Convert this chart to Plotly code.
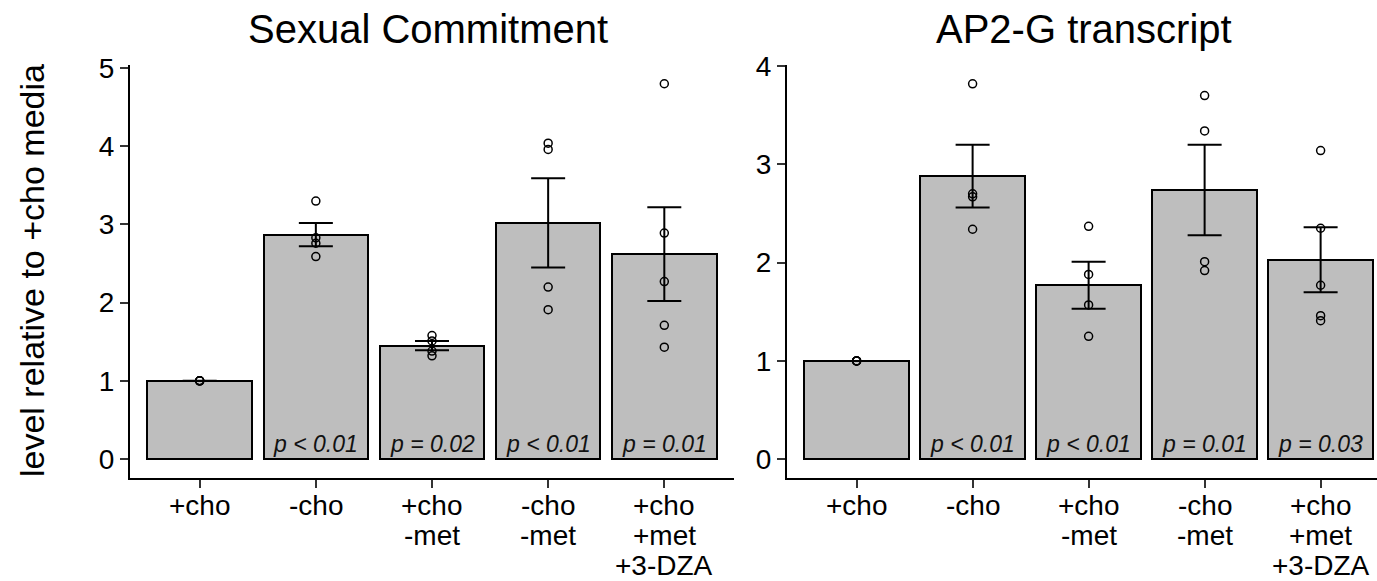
import plotly.graph_objects as go

# ---------------- data ----------------
categories = ["+cho", "-cho", "+cho\n-met", "-cho\n-met", "+cho\n+met\n+3-DZA"]

sc_title = "Sexual Commitment"
sc_mean = [1.00, 2.87, 1.45, 3.02, 2.62]
sc_se = [0.0, 0.15, 0.06, 0.57, 0.60]
sc_points = [
    [1.0, 1.0, 1.0, 1.0],
    [3.30, 2.83, 2.76, 2.59],
    [1.58, 1.51, 1.38, 1.32],
    [4.04, 3.96, 2.20, 1.91],
    [4.80, 2.89, 2.27, 1.71, 1.43],
]
sc_p = ["", "p < 0.01", "p = 0.02", "p < 0.01", "p = 0.01"]

ap_title = "AP2-G transcript"
ap_mean = [1.00, 2.88, 1.77, 2.74, 2.03]
ap_se = [0.0, 0.32, 0.24, 0.46, 0.33]
ap_points = [
    [1.0, 1.0, 1.0, 1.0],
    [3.82, 2.70, 2.67, 2.34],
    [2.37, 1.88, 1.57, 1.25],
    [3.70, 3.34, 2.01, 1.92],
    [3.14, 2.35, 1.77, 1.46, 1.41],
]
ap_p = ["", "p < 0.01", "p < 0.01", "p = 0.01", "p = 0.03"]

y_label = "level relative to +cho media"

# ---------------- layout constants (pixels) ----------------
W, H = 1377, 581
FONT = "Liberation Sans, Arial, Helvetica, sans-serif"
panel_top, panel_bot = 65, 478
left_x0, left_x1 = 130, 734
right_x0, right_x1 = 787, 1377


def py(p):
    return (H - p) / H


def px(p):
    return p / W


fig = go.Figure()

panels = [
    (sc_mean, sc_se, sc_points, sc_p, "x", "y"),
    (ap_mean, ap_se, ap_points, ap_p, "x2", "y2"),
]

idx = list(range(len(categories)))
for mean, se, pts, pv, xa, ya in panels:
    fig.add_trace(go.Bar(
        x=idx, y=mean, width=0.9, xaxis=xa, yaxis=ya,
        marker=dict(color="#BEBEBE", line=dict(color="black", width=2)),
        error_y=dict(type="data", array=se, visible=True, color="black",
                     thickness=2, width=17),
        showlegend=False, hoverinfo="skip",
    ))
    xs, ys = [], []
    for i, group in enumerate(pts):
        for v in group:
            xs.append(i)
            ys.append(v)
    fig.add_trace(go.Scatter(
        x=xs, y=ys, mode="markers", xaxis=xa, yaxis=ya,
        marker=dict(symbol="circle-open", size=8, color="black",
                    line=dict(width=1.5, color="black")),
        showlegend=False, hoverinfo="skip",
    ))
    for i, t in enumerate(pv):
        if t:
            fig.add_annotation(
                x=i, y=0, xref=xa, yref=ya, text="<i>" + t + "</i>",
                showarrow=False, yanchor="bottom", xanchor="center",
                font=dict(family=FONT, size=23, color="#111111"),
            )
    # category labels (one line each, placed under the axis ticks)
    for i, lab in enumerate(categories):
        for j, line in enumerate(lab.split("\n")):
            fig.add_annotation(
                x=i, xref=xa, y=py(505 + 30 * j), yref="paper",
                text=line, showarrow=False, xanchor="center", yanchor="middle",
                font=dict(family=FONT, size=28, color="black"),
            )

axis_common = dict(
    showline=True, linecolor="black", linewidth=2.2, mirror=False,
    ticks="outside", ticklen=8, tickwidth=2, tickcolor="#333333",
    showgrid=False, zeroline=False, fixedrange=True, automargin=False,
)

fig.update_layout(
    width=W, height=H,
    margin=dict(l=0, r=0, t=0, b=0, autoexpand=False),
    paper_bgcolor="white", plot_bgcolor="white",
    font=dict(family=FONT, color="black"),
    bargap=0,
    xaxis=dict(domain=[px(left_x0), px(left_x1)], range=[-0.6, 4.6],
               tickvals=idx, showticklabels=False, anchor="y", **axis_common),
    yaxis=dict(domain=[py(panel_bot), py(panel_top)], range=[-0.243, 5.04],
               tickvals=[0, 1, 2, 3, 4, 5], anchor="x",
               tickfont=dict(family=FONT, size=28, color="black"), **axis_common),
    xaxis2=dict(domain=[px(right_x0), px(right_x1)], range=[-0.6, 4.486],
                tickvals=idx, showticklabels=False, anchor="y2", **axis_common),
    yaxis2=dict(domain=[py(panel_bot), py(panel_top)], range=[-0.191, 4.011],
                tickvals=[0, 1, 2, 3, 4], anchor="x2",
                tickfont=dict(family=FONT, size=28, color="black"), **axis_common),
)

# panel titles
fig.add_annotation(x=px(428), y=py(29), xref="paper", yref="paper", text=sc_title,
                   showarrow=False, xanchor="center", yanchor="middle",
                   font=dict(family=FONT, size=40, color="black"))
fig.add_annotation(x=px(1084), y=py(29), xref="paper", yref="paper", text=ap_title,
                   showarrow=False, xanchor="center", yanchor="middle",
                   font=dict(family=FONT, size=40, color="black"))
# y axis title
fig.add_annotation(x=px(32), y=py(271), xref="paper", yref="paper", text=y_label,
                   showarrow=False, textangle=-90, xanchor="center", yanchor="middle",
                   font=dict(family=FONT, size=34, color="black"))

fig.write_html(
    "out.html",
    config={"displayModeBar": False},
    post_script="document.body.style.margin='0';document.body.style.overflow='hidden';",
)
